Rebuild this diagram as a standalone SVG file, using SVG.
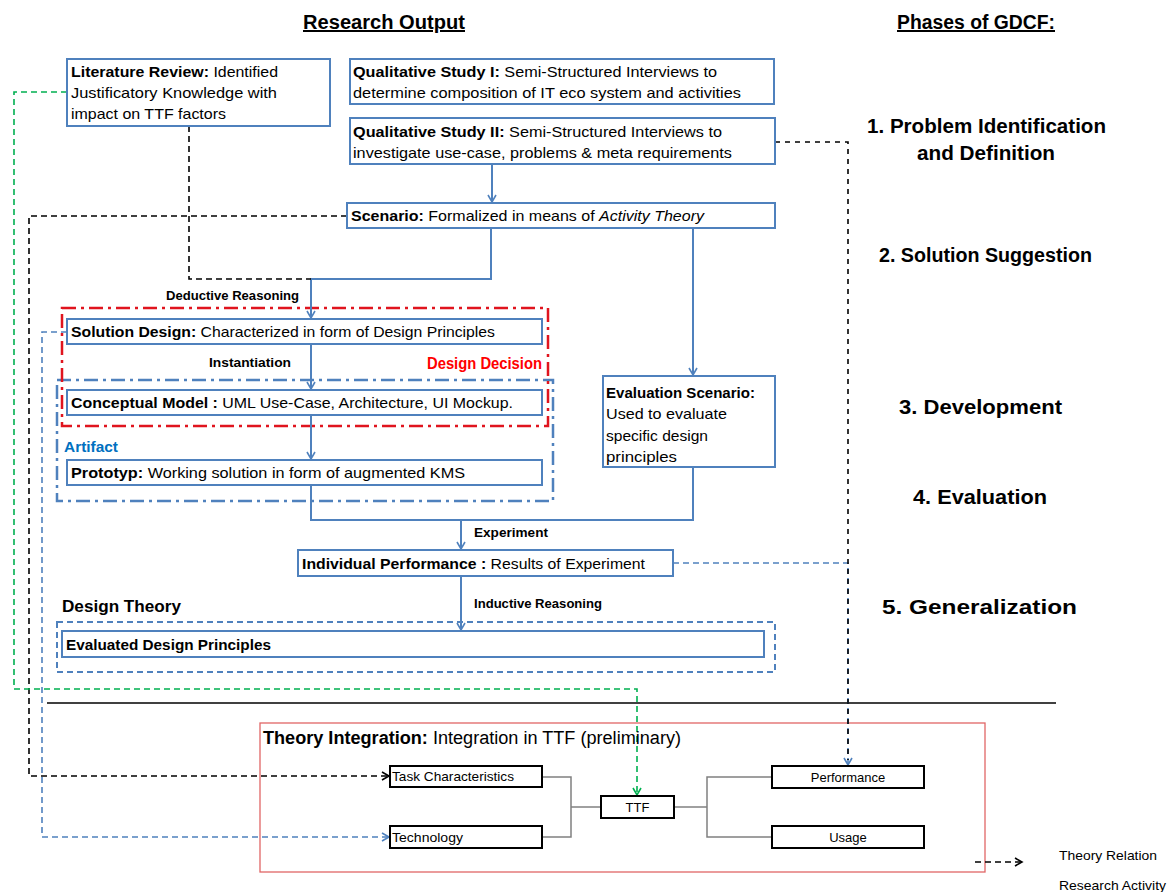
<svg xmlns="http://www.w3.org/2000/svg" width="1170" height="892" viewBox="0 0 1170 892">
<style>
text{font-family:"Liberation Sans",Arial,sans-serif;fill:#000}
.bt{font-size:15px}
.b{font-weight:bold}
.box{fill:#fff;stroke:#4f81bd;stroke-width:2}
.kbox{fill:#fff;stroke:#000;stroke-width:2}
.title{font-size:20px;font-weight:bold;text-decoration:underline}
.phase{font-size:20px;font-weight:bold}
.lab{font-size:13px;font-weight:bold}
.sm{font-size:13px}
.blue{fill:none;stroke:#4f81bd;stroke-width:2}
.kd{fill:none;stroke:#000;stroke-width:1.6;stroke-dasharray:6,4}
.gd{fill:none;stroke:#00b050;stroke-width:1.6;stroke-dasharray:6,4}
.bd{fill:none;stroke:#4f81bd;stroke-width:1.6;stroke-dasharray:6,4}
.gray{fill:none;stroke:#808080;stroke-width:1.5}
</style>
<defs>
<marker id="ab" markerWidth="10" markerHeight="10" refX="8" refY="5" orient="auto" markerUnits="userSpaceOnUse"><path d="M1,1 L8,5 L1,9" fill="none" stroke="#4f81bd" stroke-width="1.6"/></marker>
<marker id="ak" markerWidth="10" markerHeight="10" refX="8" refY="5" orient="auto" markerUnits="userSpaceOnUse"><path d="M1,1 L8,5 L1,9" fill="none" stroke="#000" stroke-width="1.6"/></marker>
<marker id="ag" markerWidth="10" markerHeight="10" refX="8" refY="5" orient="auto" markerUnits="userSpaceOnUse"><path d="M1,1 L8,5 L1,9" fill="none" stroke="#00b050" stroke-width="1.6"/></marker>
</defs>

<g id="titles">
<text class="title" x="303" y="29" textLength="162" lengthAdjust="spacingAndGlyphs">Research Output</text>
<text class="title" x="897" y="29" textLength="158" lengthAdjust="spacingAndGlyphs">Phases of GDCF:</text>
</g>

<g id="phases">
<text class="phase" x="867" y="133" textLength="239" lengthAdjust="spacingAndGlyphs">1. Problem Identification</text>
<text class="phase" x="917" y="160" textLength="138" lengthAdjust="spacingAndGlyphs">and Definition</text>
<text class="phase" x="879" y="262" textLength="213" lengthAdjust="spacingAndGlyphs">2. Solution Suggestion</text>
<text class="phase" x="899" y="414" textLength="163" lengthAdjust="spacingAndGlyphs">3. Development</text>
<text class="phase" x="913" y="504" textLength="134" lengthAdjust="spacingAndGlyphs">4. Evaluation</text>
<text class="phase" x="882" y="614" textLength="195" lengthAdjust="spacingAndGlyphs">5. Generalization</text>
</g>

<g id="containers">
<rect x="57" y="380" width="496" height="121" fill="none" stroke="#4f81bd" stroke-width="2.5" stroke-dasharray="14,5,3,5"/>
<rect x="62" y="308" width="486" height="118" fill="none" stroke="#e0141e" stroke-width="2.5" stroke-dasharray="14,5,3,5"/>
<rect x="57" y="622" width="718" height="50" fill="none" stroke="#4f81bd" stroke-width="2" stroke-dasharray="6,4"/>
<text x="427" y="369" font-size="16" font-weight="bold" style="fill:#ff0000" textLength="115" lengthAdjust="spacingAndGlyphs">Design Decision</text>
<text x="64" y="452" font-size="15" font-weight="bold" style="fill:#0070c0" textLength="54" lengthAdjust="spacingAndGlyphs">Artifact</text>
<text x="62" y="612" font-size="17" font-weight="bold" textLength="119" lengthAdjust="spacingAndGlyphs">Design Theory</text>
<line x1="47" y1="703" x2="1056" y2="703" stroke="#000" stroke-width="1.3"/>
<rect x="260" y="723" width="725" height="149" fill="none" stroke="#e06666" stroke-width="1.3"/>
</g>

<g id="connectors">
<line class="blue" x1="492" y1="164" x2="492" y2="202" marker-end="url(#ab)"/>
<polyline class="blue" points="491,228 491,279 311,279 311,318" marker-end="url(#ab)"/>
<line class="blue" x1="693" y1="228" x2="693" y2="375" marker-end="url(#ab)"/>
<line class="blue" x1="311" y1="344" x2="311" y2="389" marker-end="url(#ab)"/>
<line class="blue" x1="311" y1="415" x2="311" y2="459" marker-end="url(#ab)"/>
<polyline class="blue" points="311,485 311,520 693,520 693,467"/>
<line class="blue" x1="461" y1="520" x2="461" y2="549" marker-end="url(#ab)"/>
<line class="blue" x1="461" y1="576" x2="461" y2="630" marker-end="url(#ab)"/>
<polyline class="kd" points="189,126 189,279 311,279"/>
<polyline class="kd" points="347,216 29,216 29,776 389,776" marker-end="url(#ak)"/>
<polyline class="gd" points="67,92 14,92 14,689 637,689 637,795" marker-end="url(#ag)"/>
<polyline class="bd" points="67,332 42,332 42,837 389,837" marker-end="url(#ab)"/>
<polyline class="bd" points="673,563 848,563 848,765" marker-end="url(#ab)"/>
<polyline points="775,142 848,142 848,760" fill="none" stroke="#000" stroke-width="1.6" stroke-dasharray="5,5"/>
<polyline class="gray" points="542,777 571,777 571,837 542,837"/>
<line class="gray" x1="571" y1="807" x2="601" y2="807"/>
<line class="gray" x1="674" y1="807" x2="707" y2="807"/>
<polyline class="gray" points="772,777 707,777 707,837 772,837"/>
<line class="kd" x1="975" y1="862" x2="1022" y2="862" marker-end="url(#ak)"/>
</g>

<g id="literature-review">
<rect class="box" x="67" y="59" width="263" height="67"/>
<text class="bt" x="71" y="77" textLength="207" lengthAdjust="spacingAndGlyphs"><tspan class="b">Literature Review:</tspan> Identified</text>
<text class="bt" x="71" y="98" textLength="206" lengthAdjust="spacingAndGlyphs">Justificatory Knowledge with</text>
<text class="bt" x="71" y="119" textLength="155" lengthAdjust="spacingAndGlyphs">impact on TTF factors</text>
</g>

<g id="qual-study-1">
<rect class="box" x="350" y="59" width="424" height="45"/>
<text class="bt" x="353" y="77" textLength="364" lengthAdjust="spacingAndGlyphs"><tspan class="b">Qualitative Study I:</tspan>  Semi-Structured Interviews to</text>
<text class="bt" x="353" y="98" textLength="388" lengthAdjust="spacingAndGlyphs">determine composition of IT eco system and activities</text>
</g>

<g id="qual-study-2">
<rect class="box" x="350" y="118" width="425" height="46"/>
<text class="bt" x="353" y="137" textLength="369" lengthAdjust="spacingAndGlyphs"><tspan class="b">Qualitative Study II:</tspan>  Semi-Structured Interviews to</text>
<text class="bt" x="353" y="158" textLength="379" lengthAdjust="spacingAndGlyphs">investigate use-case, problems &amp; meta requirements</text>
</g>

<g id="scenario">
<rect class="box" x="347" y="203" width="428" height="25"/>
<text class="bt" x="351" y="221" textLength="353" lengthAdjust="spacingAndGlyphs"><tspan class="b">Scenario:</tspan>  Formalized in means of <tspan font-style="italic">Activity Theory</tspan></text>
</g>

<g id="labels">
<text class="lab" x="166" y="300" textLength="133" lengthAdjust="spacingAndGlyphs">Deductive Reasoning</text>
<text class="lab" x="209" y="367" textLength="82" lengthAdjust="spacingAndGlyphs">Instantiation</text>
<text class="lab" x="474" y="537" textLength="74" lengthAdjust="spacingAndGlyphs">Experiment</text>
<text class="lab" x="474" y="608" textLength="128" lengthAdjust="spacingAndGlyphs">Inductive Reasoning</text>
</g>

<g id="solution-design">
<rect class="box" x="67" y="319" width="475" height="25"/>
<text class="bt" x="71" y="337" textLength="424" lengthAdjust="spacingAndGlyphs"><tspan class="b">Solution Design:</tspan> Characterized in form of Design Principles</text>
</g>

<g id="conceptual-model">
<rect class="box" x="67" y="390" width="475" height="25"/>
<text class="bt" x="71" y="408" textLength="442" lengthAdjust="spacingAndGlyphs"><tspan class="b">Conceptual Model :</tspan> UML Use-Case, Architecture, UI Mockup.</text>
</g>

<g id="prototyp">
<rect class="box" x="67" y="460" width="475" height="25"/>
<text class="bt" x="71" y="478" textLength="394" lengthAdjust="spacingAndGlyphs"><tspan class="b">Prototyp:</tspan> Working solution in form of augmented KMS</text>
</g>

<g id="evaluation-scenario">
<rect class="box" x="603" y="376" width="172" height="91"/>
<text class="bt b" x="606" y="398" textLength="149" lengthAdjust="spacingAndGlyphs">Evaluation Scenario:</text>
<text class="bt" x="606" y="419" textLength="121" lengthAdjust="spacingAndGlyphs">Used to evaluate</text>
<text class="bt" x="606" y="441" textLength="102" lengthAdjust="spacingAndGlyphs">specific design</text>
<text class="bt" x="606" y="462" textLength="71" lengthAdjust="spacingAndGlyphs">principles</text>
</g>

<g id="individual-performance">
<rect class="box" x="298" y="550" width="375" height="26"/>
<text class="bt" x="302" y="569" textLength="343" lengthAdjust="spacingAndGlyphs"><tspan class="b">Individual Performance :</tspan> Results of Experiment</text>
</g>

<g id="evaluated-design-principles">
<rect class="box" x="62" y="631" width="702" height="26"/>
<text class="bt b" x="66" y="650" textLength="205" lengthAdjust="spacingAndGlyphs">Evaluated Design Principles</text>
</g>

<g id="theory-integration">
<text x="263" y="744" font-size="18" textLength="418" lengthAdjust="spacingAndGlyphs"><tspan font-weight="bold">Theory Integration:</tspan> Integration in TTF (preliminary)</text>
</g>

<g id="task-characteristics">
<rect class="kbox" x="390" y="766" width="152" height="21"/>
<text class="sm" x="392" y="781" textLength="122" lengthAdjust="spacingAndGlyphs">Task Characteristics</text>
</g>

<g id="technology">
<rect class="kbox" x="390" y="826" width="152" height="22"/>
<text class="sm" x="392" y="842" textLength="71" lengthAdjust="spacingAndGlyphs">Technology</text>
</g>

<g id="ttf">
<rect class="kbox" x="601" y="796" width="73" height="22"/>
<text class="sm" x="637.5" y="812" text-anchor="middle">TTF</text>
</g>

<g id="performance">
<rect class="kbox" x="772" y="766" width="152" height="22"/>
<text class="sm" x="848" y="782" text-anchor="middle">Performance</text>
</g>

<g id="usage">
<rect class="kbox" x="772" y="826" width="152" height="22"/>
<text class="sm" x="848" y="842" text-anchor="middle">Usage</text>
</g>

<g id="legend">
<text class="sm" x="1059" y="860" textLength="98" lengthAdjust="spacingAndGlyphs">Theory Relation</text>
<text class="sm" x="1059" y="890" textLength="107" lengthAdjust="spacingAndGlyphs">Research Activity</text>
</g>
</svg>
